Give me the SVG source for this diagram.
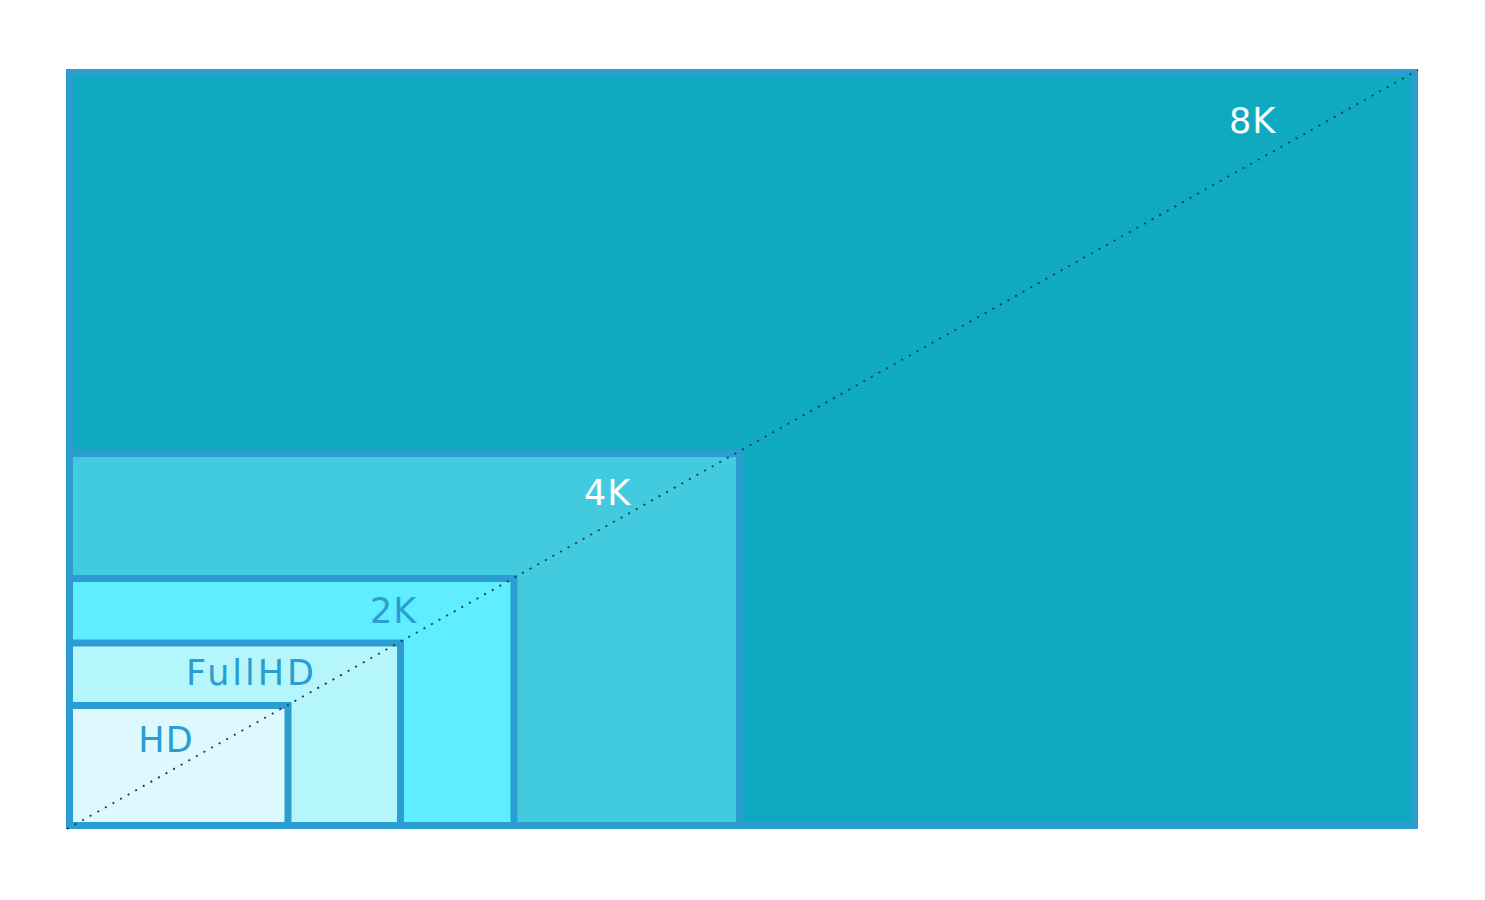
<svg xmlns="http://www.w3.org/2000/svg" width="1485" height="900" viewBox="0 0 1485 900">
<style>
.box{stroke:#2b9dd1;stroke-width:7}
.lbl{font-family:"DejaVu Sans","Liberation Sans",sans-serif;font-size:35px;text-anchor:middle}
.w{fill:#ffffff}
.b{fill:#2b9dd1}
.diag{stroke:#1b3a4b;stroke-width:1.8;stroke-dasharray:2 6.7;fill:none}
</style>
<rect width="1485" height="900" fill="#ffffff"/>
<g id="n8k"><rect class="box" x="69.5" y="72.5" width="1345" height="753" fill="#10aac0"/><text class="lbl w" x="1252.5" y="132.5" letter-spacing="1">8K</text></g>
<g id="n4k"><rect class="box" x="69.5" y="453.5" width="670" height="372" fill="#42cbdf"/><text class="lbl w" x="607.5" y="504.5" letter-spacing="1">4K</text></g>
<g id="n2k"><rect class="box" x="69.5" y="578.5" width="444.5" height="247" fill="#5eeeff"/><text class="lbl b" x="393.5" y="622.5" letter-spacing="1">2K</text></g>
<g id="nfhd"><rect class="box" x="69.5" y="643" width="331" height="182.5" fill="#b5f5fc"/><text class="lbl b" x="251.5" y="685" letter-spacing="3">FullHD</text></g>
<g id="nhd"><rect class="box" x="69.5" y="705.5" width="218.5" height="120" fill="#ddf9fd"/><text class="lbl b" x="166" y="751.5" letter-spacing="1">HD</text></g>
<g id="connectors"><line class="diag" x1="67" y1="829" x2="1418" y2="70"/></g>
</svg>
